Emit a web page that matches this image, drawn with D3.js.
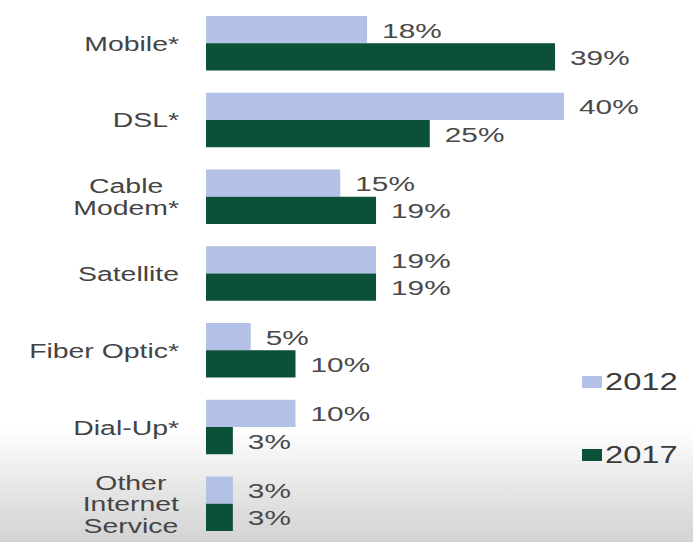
<!DOCTYPE html>
<html>
<head>
<meta charset="utf-8">
<script src="https://cdn.jsdelivr.net/npm/d3@7"></script>
<style>
  html, body { margin: 0; padding: 0; background: #fff; }
  svg { display: block; }
  text { font-family: "Liberation Sans", Arial, sans-serif; }
</style>
</head>
<body>
<div id="chart"></div>
<script>
// data
var categories = ['Mobile*', 'DSL*', 'Cable\nModem*', 'Satellite', 'Fiber Optic*', 'Dial-Up*', 'Other\nInternet\nService'];
var years = ['2012', '2017'];
var values2012 = [18, 40, 15, 19, 5, 10, 3];
var values2017 = [39, 25, 19, 19, 10, 3, 3];
var colors = ['#b3c1e7', '#0b5038'];

var _width = 693, _height = 542,
    _sx = 1.42; // the source text is stretched sideways

var _svg = d3.select('#chart').append('svg')
    .attr('width', _width)
    .attr('height', _height);

// greyish shading at the bottom of the screenshot
var grad = _svg.append('defs').append('linearGradient')
    .attr('id', 'bg').attr('x1', 0).attr('y1', 0).attr('x2', 0).attr('y2', 1);
grad.append('stop').attr('offset', 0.79).attr('stop-color', '#ffffff');
grad.append('stop').attr('offset', 0.9).attr('stop-color', '#e6e6e6');
grad.append('stop').attr('offset', 1).attr('stop-color', '#d3d3d3');
_svg.append('rect').attr('width', _width).attr('height', _height).attr('fill', 'url(#bg)');

var x = d3.scaleLinear().domain([0, 40]).range([206, 564]);
var y = d3.scaleBand().domain(categories).range([16, 531]).paddingInner(0.29).paddingOuter(0);
var ySub = d3.scaleBand().domain(years).range([0, y.bandwidth()]);

var rows = categories.map(function(c, i) {
  return { cat: c, vals: [values2012[i], values2017[i]] };
});

var groups = _svg.append('g').selectAll('g.row')
    .data(rows)
  .enter().append('g')
    .attr('class', 'row')
    .attr('transform', function(d) { return 'translate(0,' + y(d.cat) + ')'; });

var bars = groups.selectAll('g.bar')
    .data(function(d) { return d.vals.map(function(v, k) { return { year: years[k], v: v, k: k }; }); })
  .enter().append('g').attr('class', 'bar');

bars.append('rect')
    .attr('x', x(0))
    .attr('y', function(d) { return ySub(d.year); })
    .attr('height', ySub.bandwidth())
    .attr('width', function(d) { return x(d.v) - x(0); })
    .attr('fill', function(d) { return colors[d.k]; });

bars.append('g')
    .attr('transform', function(d) {
      return 'translate(' + (x(d.v) + 15) + ',' + (ySub(d.year) + ySub.bandwidth() / 2 + 8) + ') scale(' + _sx + ',1)';
    })
  .append('text')
    .attr('font-size', 21)
    .attr('fill', '#4a4a4a')
    .text(function(d) { return d.v + '%'; });

// category labels, multi-line ones are centred on each other
var labelRight = 179, lineH = 21.5;
groups.each(function(d) {
  var lines = d.cat.split('\n');
  var g = d3.select(this).append('g')
      .attr('transform', 'translate(0,' + (y.bandwidth() / 2) + ')');
  var texts = lines.map(function(l, i) {
    return g.append('g')
        .attr('transform', 'translate(0,' + ((i - (lines.length - 1) / 2) * lineH + 7.5) + ') scale(' + _sx + ',1)')
      .append('text')
        .attr('font-size', 20)
        .attr('fill', '#444')
        .text(l);
  });
  if (lines.length === 1) {
    texts[0].attr('text-anchor', 'end').attr('x', labelRight / _sx);
  } else {
    var w = d3.max(texts, function(t) { return t.node().getComputedTextLength(); });
    var cx = (labelRight - w * _sx / 2) / _sx;
    texts.forEach(function(t) { t.attr('text-anchor', 'middle').attr('x', cx); });
  }
});

// legend
var legendY = [376, 449];
var legend = _svg.append('g').selectAll('g')
    .data(years)
  .enter().append('g')
    .attr('transform', function(d, i) { return 'translate(582,' + legendY[i] + ')'; });

legend.append('rect')
    .attr('width', 20).attr('height', 12)
    .attr('fill', function(d, i) { return colors[i]; });

legend.append('g')
    .attr('transform', 'translate(23,14) scale(' + _sx + ',1)')
  .append('text')
    .attr('font-size', 23)
    .attr('fill', '#3a3a3a')
    .text(function(d) { return d; });
</script>
</body>
</html>
